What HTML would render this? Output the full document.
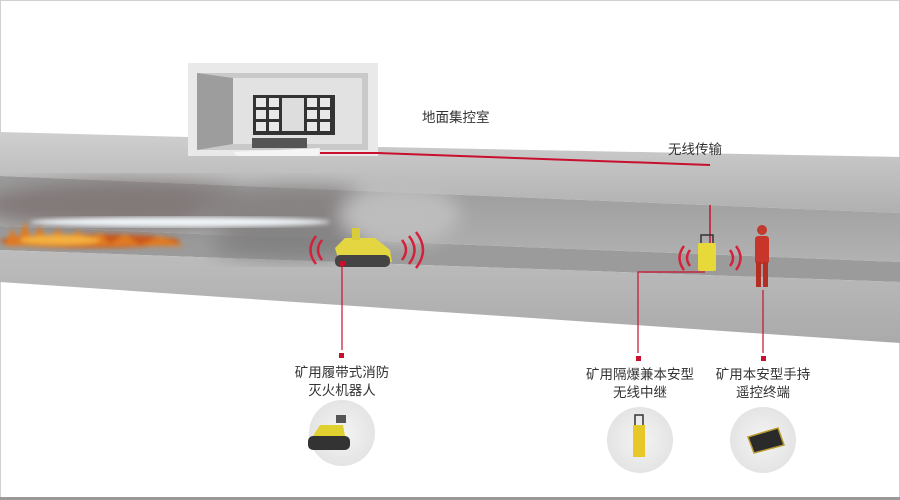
<!DOCTYPE html>
<html><head><meta charset="utf-8"><style>
body{margin:0;background:#fff}
svg{display:block}
text{font-family:"Liberation Sans","Noto Sans CJK SC",sans-serif;font-size:13.5px;fill:#333}
</style></head><body>
<svg width="900" height="500" viewBox="0 0 900 500" xmlns="http://www.w3.org/2000/svg">
<defs>
<linearGradient id="slab" x1="0" y1="0" x2="0" y2="1"><stop offset="0" stop-color="#cfcfcf"/><stop offset="1" stop-color="#b0b0b0"/></linearGradient>
<linearGradient id="wall" x1="0" y1="0" x2="0" y2="1"><stop offset="0" stop-color="#9a9a9a"/><stop offset="1" stop-color="#b2b2b2"/></linearGradient>
<linearGradient id="front" x1="0" y1="0" x2="0" y2="1"><stop offset="0" stop-color="#bdbdbd"/><stop offset="1" stop-color="#aaaaaa"/></linearGradient>
<radialGradient id="circ"><stop offset="0" stop-color="#f4f4f4"/><stop offset="1" stop-color="#e4e4e4"/></radialGradient>
<filter id="blur"><feGaussianBlur stdDeviation="9"/></filter>
<filter id="blur2"><feGaussianBlur stdDeviation="2.5"/></filter>
</defs>
<rect x="0.5" y="0.5" width="899" height="497" fill="#fff" stroke="#d0d0d0"/>
<!-- building -->
<rect x="188" y="63" width="190" height="93" fill="#e9e9e9"/>
<polygon points="197,73 368,73 368,150 197,150" fill="#c9c9c9"/>
<polygon points="233,78 362,78 362,144 233,144" fill="#e2e2e2"/>
<polygon points="197,73 233,78 233,144 197,150" fill="#9d9d9d"/>
<rect x="253" y="95" width="82" height="40" fill="#333"/>
<g fill="#e8e8e8">
<rect x="256" y="98" width="10" height="9"/><rect x="269" y="98" width="10" height="9"/><rect x="307" y="98" width="10" height="9"/><rect x="320" y="98" width="10" height="9"/>
<rect x="256" y="110" width="10" height="9"/><rect x="269" y="110" width="10" height="9"/><rect x="307" y="110" width="10" height="9"/><rect x="320" y="110" width="10" height="9"/>
<rect x="256" y="122" width="10" height="9"/><rect x="269" y="122" width="10" height="9"/><rect x="307" y="122" width="10" height="9"/><rect x="320" y="122" width="10" height="9"/>
<rect x="282" y="98" width="22" height="33" fill="#ddd"/>
</g>
<polygon points="233,152 320,148 318,156 240,158" fill="#f5f5f5"/>
<rect x="252" y="138" width="55" height="10" fill="#555"/>
<!-- ceiling slab -->
<polygon points="0,132 188,137 188,156 378,156 378,147 900,157 900,213 0,176" fill="url(#slab)"/>
<!-- back wall -->
<polygon points="0,176 900,213 900,262 0,226" fill="url(#wall)"/>
<!-- floor top -->
<polygon points="0,226 900,262 900,282 0,250" fill="#9b9b9b"/>
<!-- floor front -->
<polygon points="0,250 900,282 900,343 0,282" fill="url(#front)"/>
<!-- smoke -->
<g filter="url(#blur)" opacity="0.9">
<ellipse cx="130" cy="205" rx="150" ry="24" fill="#7f7575"/>
<ellipse cx="300" cy="212" rx="110" ry="26" fill="#858080"/>
<ellipse cx="290" cy="245" rx="80" ry="14" fill="#808080"/>
<ellipse cx="400" cy="215" rx="60" ry="30" fill="#c0c0c0"/>
</g>
<!-- water jet -->
<ellipse cx="180" cy="222" rx="150" ry="5" fill="#eef4f8" filter="url(#blur2)"/>
<!-- fire -->
<g filter="url(#blur2)">
<ellipse cx="90" cy="241" rx="90" ry="7" fill="#c8561a"/>
<path d="M5,246 L12,228 L18,240 L25,222 L32,240 L40,226 L48,242 L58,228 L66,242 L78,230 L88,243 L100,232 L110,244 L125,234 L140,245 L160,236 L185,246 Z" fill="#e07a22"/>
<ellipse cx="60" cy="240" rx="40" ry="5" fill="#f4b040"/>
</g>
<!-- red cable -->
<polyline points="320,153 378,153 710,165" fill="none" stroke="#c8102e" stroke-width="2"/>
<line x1="710" y1="205" x2="710" y2="245" stroke="#c8102e" stroke-width="1.5"/>
<!-- robot -->
<polygon points="335,248 345,238 375,238 390,250 392,262 340,265" fill="#e4d640"/>
<rect x="335" y="255" width="55" height="12" rx="5" fill="#444"/>
<rect x="352" y="228" width="8" height="12" fill="#d9cc3a"/>
<!-- arcs -->
<g fill="none" stroke="#d4213a" stroke-width="2.5">
<path d="M322,240 q-8,10 0,20"/><path d="M316,236 q-11,14 0,28"/>
<path d="M402,240 q8,10 0,20"/><path d="M409,236 q11,14 0,28"/><path d="M416,232 q14,18 0,36"/>
<path d="M690,250 q-6,8 0,16"/><path d="M684,246 q-9,12 0,24"/>
<path d="M730,250 q6,8 0,16"/><path d="M736,246 q9,12 0,24"/>
</g>
<!-- relay -->
<rect x="698" y="243" width="18" height="28" rx="2" fill="#e8d93a"/>
<path d="M701,243 v-8 h12 v8" fill="none" stroke="#333" stroke-width="1.5"/>
<!-- person -->
<rect x="755" y="236" width="14" height="28" rx="3" fill="#c8352a"/>
<rect x="756" y="262" width="5" height="25" fill="#b52e24"/>
<rect x="763" y="262" width="5" height="25" fill="#b52e24"/>
<circle cx="762" cy="230" r="5" fill="#c13a2c"/>
<!-- leader lines -->
<g stroke="#c8102e" stroke-width="1.2" fill="none">
<line x1="342" y1="263" x2="342" y2="350"/>
<polyline points="705,272 638,272 638,353"/>
<line x1="763" y1="290" x2="763" y2="353"/>
</g>
<g fill="#c8102e">
<rect x="339" y="353" width="5" height="5"/><rect x="636" y="356" width="5" height="5"/><rect x="761" y="356" width="5" height="5"/>
<rect x="340" y="261" width="5" height="5"/>
</g>
<!-- labels -->
<text x="422" y="122">地面集控室</text>
<text x="668" y="154">无线传输</text>
<text x="342" y="377" text-anchor="middle">矿用履带式消防</text>
<text x="342" y="395" text-anchor="middle">灭火机器人</text>
<text x="640" y="379" text-anchor="middle">矿用隔爆兼本安型</text>
<text x="640" y="397" text-anchor="middle">无线中继</text>
<text x="763" y="379" text-anchor="middle">矿用本安型手持</text>
<text x="763" y="397" text-anchor="middle">遥控终端</text>
<!-- product circles -->
<circle cx="342" cy="433" r="33" fill="url(#circ)"/>
<circle cx="640" cy="440" r="33" fill="url(#circ)"/>
<circle cx="763" cy="440" r="33" fill="url(#circ)"/>
<rect x="308" y="436" width="42" height="14" rx="5" fill="#333"/>
<polygon points="313,436 320,425 343,425 345,436" fill="#e0d030"/>
<rect x="336" y="415" width="10" height="8" fill="#555"/>
<rect x="633" y="425" width="12" height="32" fill="#e6c82a"/>
<path d="M635,425 v-10 h8 v10" fill="none" stroke="#333" stroke-width="1.5"/>
<polygon points="748,437 778,428 784,445 754,453" fill="#2a2a2a" stroke="#b89a30" stroke-width="1.5"/>
<rect x="0" y="497" width="900" height="3" fill="#999"/>
</svg>
</body></html>
